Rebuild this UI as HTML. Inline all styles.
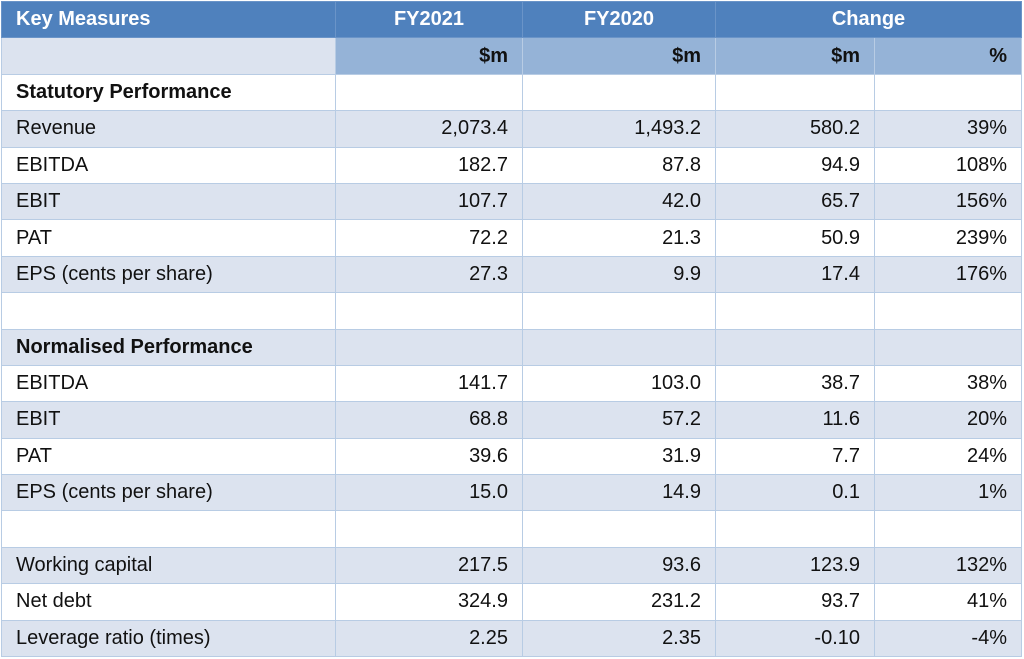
<!DOCTYPE html>
<html><head><meta charset="utf-8">
<style>
html,body{margin:0;padding:0;background:#fff;width:1024px;height:659px;overflow:hidden}
table{position:absolute;left:1px;top:1px;border-collapse:collapse;table-layout:fixed;width:1020px;font-family:"Liberation Sans",sans-serif;font-size:20px;color:#111}
td,th{border:1px solid #b8cce4;height:36.4px;padding:0 14px;box-sizing:border-box;white-space:nowrap}
th{background:#4f81bd;color:#fff;font-weight:bold;text-align:center;border-color:#6a94c8}
th.l{text-align:left}
tr.sub td{background:#95b3d7;font-weight:bold;text-align:right}
tr.sub td.f{background:#dce3ef}
td{text-align:right}
td.f{text-align:left;padding-left:14px}
tr.s td{background:#dce3ef}
tr.b td.f{font-weight:bold}
</style></head><body>
<table>
<colgroup><col style="width:334px"><col style="width:187px"><col style="width:193px"><col style="width:159px"><col style="width:147px"></colgroup>
<tr><th class="l">Key Measures</th><th>FY2021</th><th>FY2020</th><th colspan="2">Change</th></tr>
<tr class="sub"><td class="f"></td><td>$m</td><td>$m</td><td>$m</td><td>%</td></tr>
<tr class="b"><td class="f">Statutory Performance</td><td></td><td></td><td></td><td></td></tr>
<tr class="s"><td class="f">Revenue</td><td>2,073.4</td><td>1,493.2</td><td>580.2</td><td>39%</td></tr>
<tr><td class="f">EBITDA</td><td>182.7</td><td>87.8</td><td>94.9</td><td>108%</td></tr>
<tr class="s"><td class="f">EBIT</td><td>107.7</td><td>42.0</td><td>65.7</td><td>156%</td></tr>
<tr><td class="f">PAT</td><td>72.2</td><td>21.3</td><td>50.9</td><td>239%</td></tr>
<tr class="s"><td class="f">EPS (cents per share)</td><td>27.3</td><td>9.9</td><td>17.4</td><td>176%</td></tr>
<tr><td class="f"></td><td></td><td></td><td></td><td></td></tr>
<tr class="s b"><td class="f">Normalised Performance</td><td></td><td></td><td></td><td></td></tr>
<tr><td class="f">EBITDA</td><td>141.7</td><td>103.0</td><td>38.7</td><td>38%</td></tr>
<tr class="s"><td class="f">EBIT</td><td>68.8</td><td>57.2</td><td>11.6</td><td>20%</td></tr>
<tr><td class="f">PAT</td><td>39.6</td><td>31.9</td><td>7.7</td><td>24%</td></tr>
<tr class="s"><td class="f">EPS (cents per share)</td><td>15.0</td><td>14.9</td><td>0.1</td><td>1%</td></tr>
<tr><td class="f"></td><td></td><td></td><td></td><td></td></tr>
<tr class="s"><td class="f">Working capital</td><td>217.5</td><td>93.6</td><td>123.9</td><td>132%</td></tr>
<tr><td class="f">Net debt</td><td>324.9</td><td>231.2</td><td>93.7</td><td>41%</td></tr>
<tr class="s"><td class="f">Leverage ratio (times)</td><td>2.25</td><td>2.35</td><td>-0.10</td><td>-4%</td></tr>
</table>
</body></html>
